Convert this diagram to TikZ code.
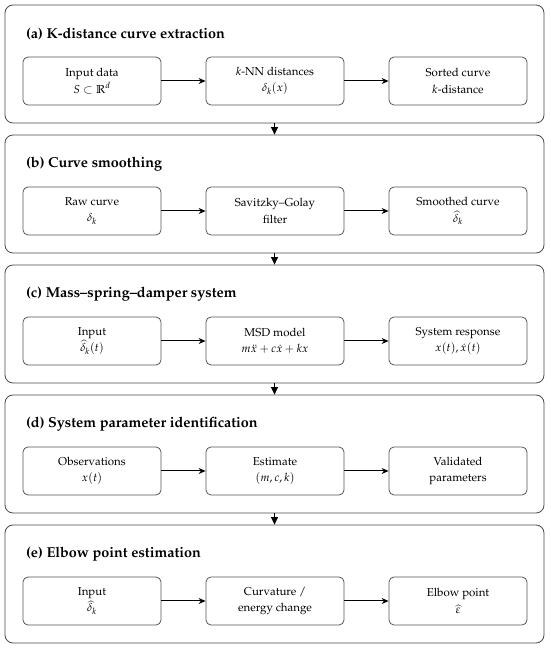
\documentclass[tikz,border=0pt]{standalone}
\usepackage[T1]{fontenc}
\usepackage{amssymb}
\usepackage{mathpazo}
\usetikzlibrary{arrows.meta}
\definecolor{framegray}{HTML}{4A4A4A}
\definecolor{boxgray}{HTML}{555555}
\tikzset{
  panel/.style={draw=framegray, line width=0.8pt, rounded corners=8pt, minimum width=539pt, minimum height=118pt, inner sep=0pt},
  stagebox/.style={draw=boxgray, line width=0.8pt, rounded corners=5pt, minimum width=138pt, minimum height=48pt, align=center, inner sep=2pt, font=\fontsize{11.5}{16.5}\selectfont},
  paneltitle/.style={anchor=west, inner sep=0pt, font=\fontsize{14.4}{17}\selectfont\bfseries},
  flow/.style={-{Stealth[length=7pt,width=6pt]}, line width=1pt, black},
  link/.style={-{Triangle[length=7.5pt,width=7pt]}, line width=0.8pt, black, shorten <=0pt}
}
\begin{document}
\begin{tikzpicture}[x=1pt,y=1pt]
\useasboundingbox (0,0) rectangle (550,649);
% panels
\foreach \i/\nm in {0/pa,1/pb,2/pc,3/pd,4/pe}{
  \node[panel] (\nm) at (274.5,585-130*\i) {};
}
% titles
\node[paneltitle] (ta) at (26,615) {(a) K-distance curve extraction};
\node[paneltitle] (tb) at (26,485) {(b) Curve smoothing};
\node[paneltitle] (tc) at (26,355) {(c) Mass--spring--damper system};
\node[paneltitle] (td) at (26,225) {(d) System parameter identification};
\node[paneltitle] (te) at (26,95) {(e) Elbow point estimation};
% panel (a)
\node[stagebox] (a1) at (92,568) {Input data\\$S\subset\mathbb{R}^d$};
\node[stagebox] (a2) at (275,568) {$k$-NN distances\\$\delta_k(x)$};
\node[stagebox] (a3) at (458,568) {Sorted curve\\$k$-distance};
% panel (b)
\node[stagebox] (b1) at (92,438) {Raw curve\\$\delta_k$};
\node[stagebox] (b2) at (275,438) {Savitzky--Golay\\filter};
\node[stagebox] (b3) at (458,438) {Smoothed curve\\$\widehat{\delta}_k$};
% panel (c)
\node[stagebox] (c1) at (92,308) {Input\\$\widehat{\delta}_k(t)$};
\node[stagebox] (c2) at (275,308) {MSD model\\$m\ddot{x}+c\dot{x}+kx$};
\node[stagebox] (c3) at (458,308) {System response\\$x(t),\dot{x}(t)$};
% panel (d)
\node[stagebox] (d1) at (92,178) {Observations\\$x(t)$};
\node[stagebox] (d2) at (275,178) {Estimate\\$(m,c,k)$};
\node[stagebox] (d3) at (458,178) {Validated\\parameters};
% panel (e)
\node[stagebox] (e1) at (92,48) {Input\\$\widehat{\delta}_k$};
\node[stagebox] (e2) at (275,48) {Curvature /\\energy change};
\node[stagebox] (e3) at (458,48) {Elbow point\\$\widehat{\varepsilon}$};
% flows
\foreach \r in {a,b,c,d,e}{
  \draw[flow] (\r1) -- (\r2);
  \draw[flow] (\r2) -- (\r3);
}
% links between panels
\draw[link] (pa.south) -- (pb.north);
\draw[link] (pb.south) -- (pc.north);
\draw[link] (pc.south) -- (pd.north);
\draw[link] (pd.south) -- (pe.north);
\end{tikzpicture}
\end{document}
